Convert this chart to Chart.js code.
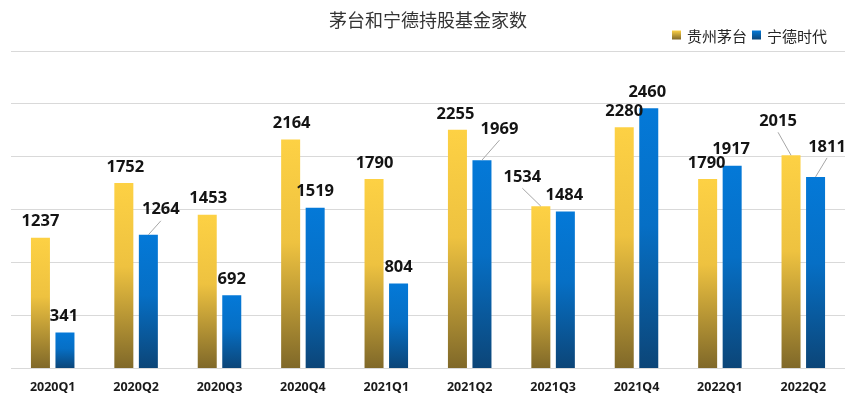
<!DOCTYPE html>
<html>
<head>
<meta charset="utf-8">
<script src="https://cdn.jsdelivr.net/npm/chart.js@4"></script>
<style>
  html, body { margin: 0; padding: 0; background: #fff; }
  #wrap { width: 860px; height: 404px; }
</style>
</head>
<body>
<div id="wrap"><canvas id="my-chart" width="860" height="404"></canvas></div>
<script>

// data
let quarters = ['2020Q1', '2020Q2', '2020Q3', '2020Q4', '2021Q1', '2021Q2', '2021Q3', '2021Q4', '2022Q1', '2022Q2'];
let moutaiFunds = [1237, 1752, 1453, 2164, 1790, 2255, 1534, 2280, 1790, 2015];
let catlFunds = [341, 1264, 692, 1519, 804, 1969, 1484, 2460, 1917, 1811];
let seriesNames = ['贵州茅台', '宁德时代'];
let chartTitle = '茅台和宁德持股基金家数';

// gradient stops per series (top -> bottom of a bar)
let barColors = [
    ['#FDD144', '#EEC240', '#7F6829'],
    ['#0479D8', '#066FC5', '#0C4577']
];

// label offsets from bar top (dx, dy); lead = draw a leader line
let labelOffsets = [
    [[0, -17], [1.5, -17], [1, -17], [1, -17], [0.5, -17], [-2, -17], [-18.5, -30, 'lead'], [0, -17], [-1, -17], [-13, -35, 'lead']],
    [[-1, -17], [12.5, -26, 'lead'], [0, -17], [0, -17], [0, -17], [17.5, -32, 'lead'], [-1, -17], [-1.5, -17], [-1, -17], [11.5, -31, 'lead']]
];

function barGradient(index) {
    return function (context) {
        let chart = context.chart;
        let colors = barColors[index];
        if (context.type !== 'data' || !chart.chartArea || !chart.scales.y) {
            return colors[0];
        }
        let yScale = chart.scales.y;
        let top = yScale.getPixelForValue(context.parsed.y);
        let base = yScale.getPixelForValue(0);
        if (!isFinite(top) || base - top < 1) {
            return colors[0];
        }
        let g = chart.ctx.createLinearGradient(0, top, 0, base);
        g.addColorStop(0, colors[0]);
        g.addColorStop(0.45, colors[1]);
        g.addColorStop(1, colors[2]);
        return g;
    };
}

// value labels above bars, some with leader lines
let valueLabels = {
    id: 'valueLabels',
    afterDatasetsDraw(chart) {
        let ctx = chart.ctx;
        ctx.save();
        ctx.font = 'bold 16.5px "Noto Sans", "DejaVu Sans", sans-serif';
        ctx.textAlign = 'center';
        ctx.textBaseline = 'middle';
        chart.data.datasets.forEach(function (ds, d) {
            let meta = chart.getDatasetMeta(d);
            meta.data.forEach(function (bar, i) {
                let off = labelOffsets[d][i];
                let lx = bar.x + off[0];
                let ly = bar.y + off[1];
                if (off[2] === 'lead') {
                    ctx.strokeStyle = '#a6a6a6';
                    ctx.lineWidth = 1;
                    ctx.beginPath();
                    ctx.moveTo(bar.x, bar.y);
                    ctx.lineTo(lx, ly + 12);
                    ctx.stroke();
                }
                ctx.fillStyle = '#141414';
                ctx.fillText(ds.data[i], lx, ly + 1);
            });
        });
        ctx.restore();
    }
};

// legend at top right
let topLegend = {
    id: 'topLegend',
    afterDraw(chart) {
        let ctx = chart.ctx;
        ctx.save();
        ctx.font = '15px "Noto Sans CJK SC", sans-serif';
        ctx.textBaseline = 'middle';
        let cy = 35;
        let box = 9;
        let x = 672;
        seriesNames.forEach(function (name, d) {
            let colors = barColors[d];
            let g = ctx.createLinearGradient(0, cy - box / 2, 0, cy + box / 2);
            g.addColorStop(0, colors[0]);
            g.addColorStop(1, colors[2]);
            ctx.fillStyle = g;
            ctx.fillRect(x, cy - box / 2, box, box);
            x += box + 6;
            ctx.fillStyle = '#262626';
            ctx.fillText(name, x, cy + 1);
            x += ctx.measureText(name).width + 5;
        });
        ctx.restore();
    }
};

let chartEl = document.getElementById('my-chart');

let fundChart = new Chart(chartEl.getContext('2d'), {
    type: 'bar',
    data: {
        labels: quarters,
        datasets: [{
            label: seriesNames[0],
            data: moutaiFunds,
            backgroundColor: barGradient(0)
        }, {
            label: seriesNames[1],
            data: catlFunds,
            backgroundColor: barGradient(1)
        }]
    },
    options: {
        responsive: false,
        animation: false,
        devicePixelRatio: 1,
        categoryPercentage: 0.588,
        barPercentage: 0.775,
        layout: {
            padding: { left: 11, right: 15, top: 0, bottom: -1.6 }
        },
        plugins: {
            legend: { display: false },
            tooltip: { enabled: false },
            title: {
                display: true,
                text: chartTitle,
                color: '#333333',
                font: { family: '"Noto Sans CJK SC", sans-serif', size: 18, weight: 'normal', lineHeight: 1.2 },
                padding: { top: 9, bottom: 20.4 }
            }
        },
        scales: {
            x: {
                grid: { display: false, drawTicks: false },
                border: { display: false },
                ticks: {
                    color: '#1a1a1a',
                    padding: 11,
                    maxRotation: 0,
                    font: { family: '"Noto Sans", sans-serif', size: 12.5, weight: 'bold' }
                }
            },
            y: {
                min: 0,
                max: 3000,
                grid: { color: '#d9d9d9', lineWidth: 1, drawTicks: false },
                border: { display: false },
                ticks: { display: false, stepSize: 500 }
            }
        }
    },
    plugins: [valueLabels, topLegend]
});

</script>
</body>
</html>
